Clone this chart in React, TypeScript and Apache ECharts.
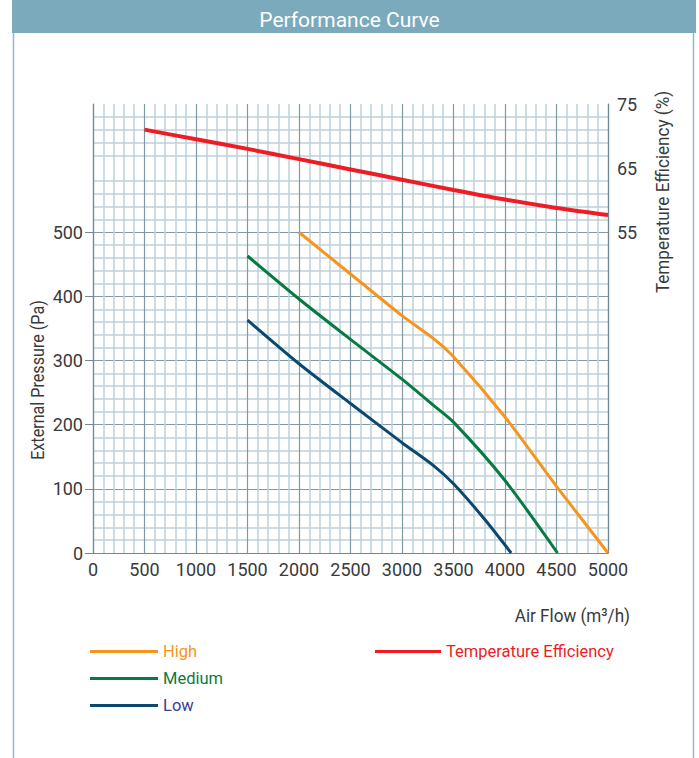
import React, { useEffect, useRef } from "react";
import * as echarts from "echarts";

const FONT = "Roboto, 'Liberation Sans', sans-serif";

const xTicks = [0, 500, 1000, 1500, 2000, 2500, 3000, 3500, 4000, 4500, 5000];
const pressureLabels = [0, 100, 200, 300, 400, 500];
const efficiencyLabels = [55, 65, 75];

const highFlow = [2000, 2500, 3000, 3300, 3500, 4000, 4500, 5000];
const highPressure = [500, 435, 370, 335, 306, 212, 104, 0];

const mediumFlow = [1500, 2000, 2500, 3000, 3300, 3500, 4000, 4510];
const mediumPressure = [463, 396, 333, 271, 231, 204, 113, 0];

const lowFlow = [1500, 2000, 2500, 3000, 3300, 3500, 3800, 4060];
const lowPressure = [363, 295, 233, 172, 137, 108, 53, 0];

const effFlow = [500, 1000, 1500, 2000, 2500, 3000, 3500, 4000, 4500, 5000];
const effValue = [71.0, 69.5, 68.0, 66.4, 64.8, 63.2, 61.6, 60.1, 58.8, 57.7];

const zip = (a: number[], b: number[]) => a.map((v, i) => [v, b[i]]);

const COLORS = {
  high: "#F7941D",
  medium: "#077A3F",
  low: "#0A4870",
  eff: "#EE1C25",
  lowText: "#3B3B98",
  mediumText: "#0E7A3C",
};

export default function App() {
  const ref = useRef<HTMLDivElement>(null);
  useEffect(() => {
    if (!ref.current) return;
    const chart = echarts.init(ref.current, undefined, { renderer: "svg" });
    const minorLine = { show: true, lineStyle: { color: "#BED1DB", width: 1.5 } };
    const majorLine = { show: true, lineStyle: { color: "#7F99A5", width: 1.2 } };
    const axisText = { fontFamily: FONT, fontSize: 18, color: "#3A3A3A" };
    chart.setOption({
      animation: false,
      backgroundColor: "#FFFFFF",
      title: {
        text: "Performance Curve",
        left: "center",
        top: 4,
        textStyle: { color: "#FFFFFF", fontFamily: FONT, fontSize: 21, fontWeight: "normal" },
      },
      graphic: [
        { type: "rect", z: -10, shape: { x: 13.5, y: 0, width: 680, height: 780 }, style: { fill: "#FFFFFF", stroke: "#92B9C9", lineWidth: 1.5 } },
        { type: "rect", z: -9, shape: { x: 12, y: 0, width: 684, height: 33 }, style: { fill: "#7BAABD" } },
        {
          type: "text", x: 38, y: 380, rotation: Math.PI / 2, scaleX: 0.85,
          style: { text: "External Pressure (Pa)", fill: "#3A3A3A", fontFamily: FONT, fontSize: 19, align: "center", verticalAlign: "middle" },
        },
        {
          type: "text", x: 662, y: 192, rotation: Math.PI / 2, scaleX: 0.9,
          style: { text: "Temperature Efficiency (%)", fill: "#3A3A3A", fontFamily: FONT, fontSize: 19, align: "center", verticalAlign: "middle" },
        },
        {
          type: "text", x: 630, y: 615, scaleX: 0.9,
          style: { text: "Air Flow (m³/h)", fill: "#3A3A3A", fontFamily: FONT, fontSize: 19, align: "right", verticalAlign: "middle" },
        },
      ],
      legend: [
        {
          left: 90, top: 643, orient: "vertical", padding: 0, itemGap: 10,
          itemWidth: 68, itemHeight: 3, icon: "rect", selectedMode: false,
          textStyle: { fontFamily: FONT, fontSize: 16.5 },
          data: [
            { name: "High", textStyle: { color: COLORS.high } },
            { name: "Medium", textStyle: { color: COLORS.mediumText } },
            { name: "Low", textStyle: { color: COLORS.lowText } },
          ],
        },
        {
          left: 375, top: 643, orient: "vertical", padding: 0,
          itemWidth: 66, itemHeight: 3, icon: "rect", selectedMode: false,
          textStyle: { fontFamily: FONT, fontSize: 16.5 },
          data: [{ name: "Temperature Efficiency", textStyle: { color: COLORS.eff } }],
        },
      ],
      grid: { left: 93, right: 91, top: 104, bottom: 205, containLabel: false },
      xAxis: {
        type: "value",
        min: 0,
        max: 5000,
        interval: 500,
        axisLine: { show: true, lineStyle: { color: "#6F8A96", width: 1.2 } },
        axisTick: { show: false },
        axisLabel: { ...axisText, margin: 7, showMaxLabel: true, showMinLabel: true, hideOverlap: false, formatter: (v: number) => (xTicks.includes(v) ? String(v) : "") },
        splitLine: majorLine,
        minorTick: { show: false, splitNumber: 5 },
        minorSplitLine: minorLine,
      },
      yAxis: [
        {
          type: "value",
          min: 0,
          max: 700,
          interval: 100,
          position: "left",
          axisLine: { show: true, lineStyle: { color: "#6F8A96", width: 1.2 } },
          axisTick: { show: true, length: 8, customValues: pressureLabels, lineStyle: { color: "#6F8A96" } },
          axisLabel: {
            ...axisText,
            margin: 10,
            customValues: pressureLabels,
            formatter: (v: number) => (v <= 500 ? String(v) : ""),
          },
          splitLine: majorLine,
          minorTick: { show: false, splitNumber: 5 },
          minorSplitLine: minorLine,
        },
        {
          type: "value",
          min: 5,
          max: 75,
          interval: 5,
          position: "right",
          axisLine: { show: true, lineStyle: { color: "#6F8A96", width: 1.2 } },
          axisTick: { show: false },
          axisLabel: {
            ...axisText,
            margin: 9,
            customValues: efficiencyLabels,
            formatter: (v: number) => (efficiencyLabels.includes(v) ? String(v) : ""),
          },
          splitLine: { show: false },
        },
      ],
      series: [
        {
          name: "High", type: "line", data: zip(highFlow, highPressure), yAxisIndex: 0,
          smooth: 0.25, showSymbol: false, color: COLORS.high, lineStyle: { width: 3, color: COLORS.high },
        },
        {
          name: "Medium", type: "line", data: zip(mediumFlow, mediumPressure), yAxisIndex: 0,
          smooth: 0.25, showSymbol: false, color: COLORS.medium, lineStyle: { width: 3, color: COLORS.medium },
        },
        {
          name: "Low", type: "line", data: zip(lowFlow, lowPressure), yAxisIndex: 0,
          smooth: 0.25, showSymbol: false, color: COLORS.low, lineStyle: { width: 3, color: COLORS.low },
        },
        {
          name: "Temperature Efficiency", type: "line", data: zip(effFlow, effValue), yAxisIndex: 1,
          smooth: 0.3, showSymbol: false, color: COLORS.eff, lineStyle: { width: 4, color: COLORS.eff },
        },
      ],
    });
    return () => chart.dispose();
  }, []);
  return (
    <div style={{ position: "absolute", left: 0, top: 0, width: 699, height: 758, background: "#fff" }}>
      <div ref={ref} style={{ width: 699, height: 758 }} />
    </div>
  );
}
